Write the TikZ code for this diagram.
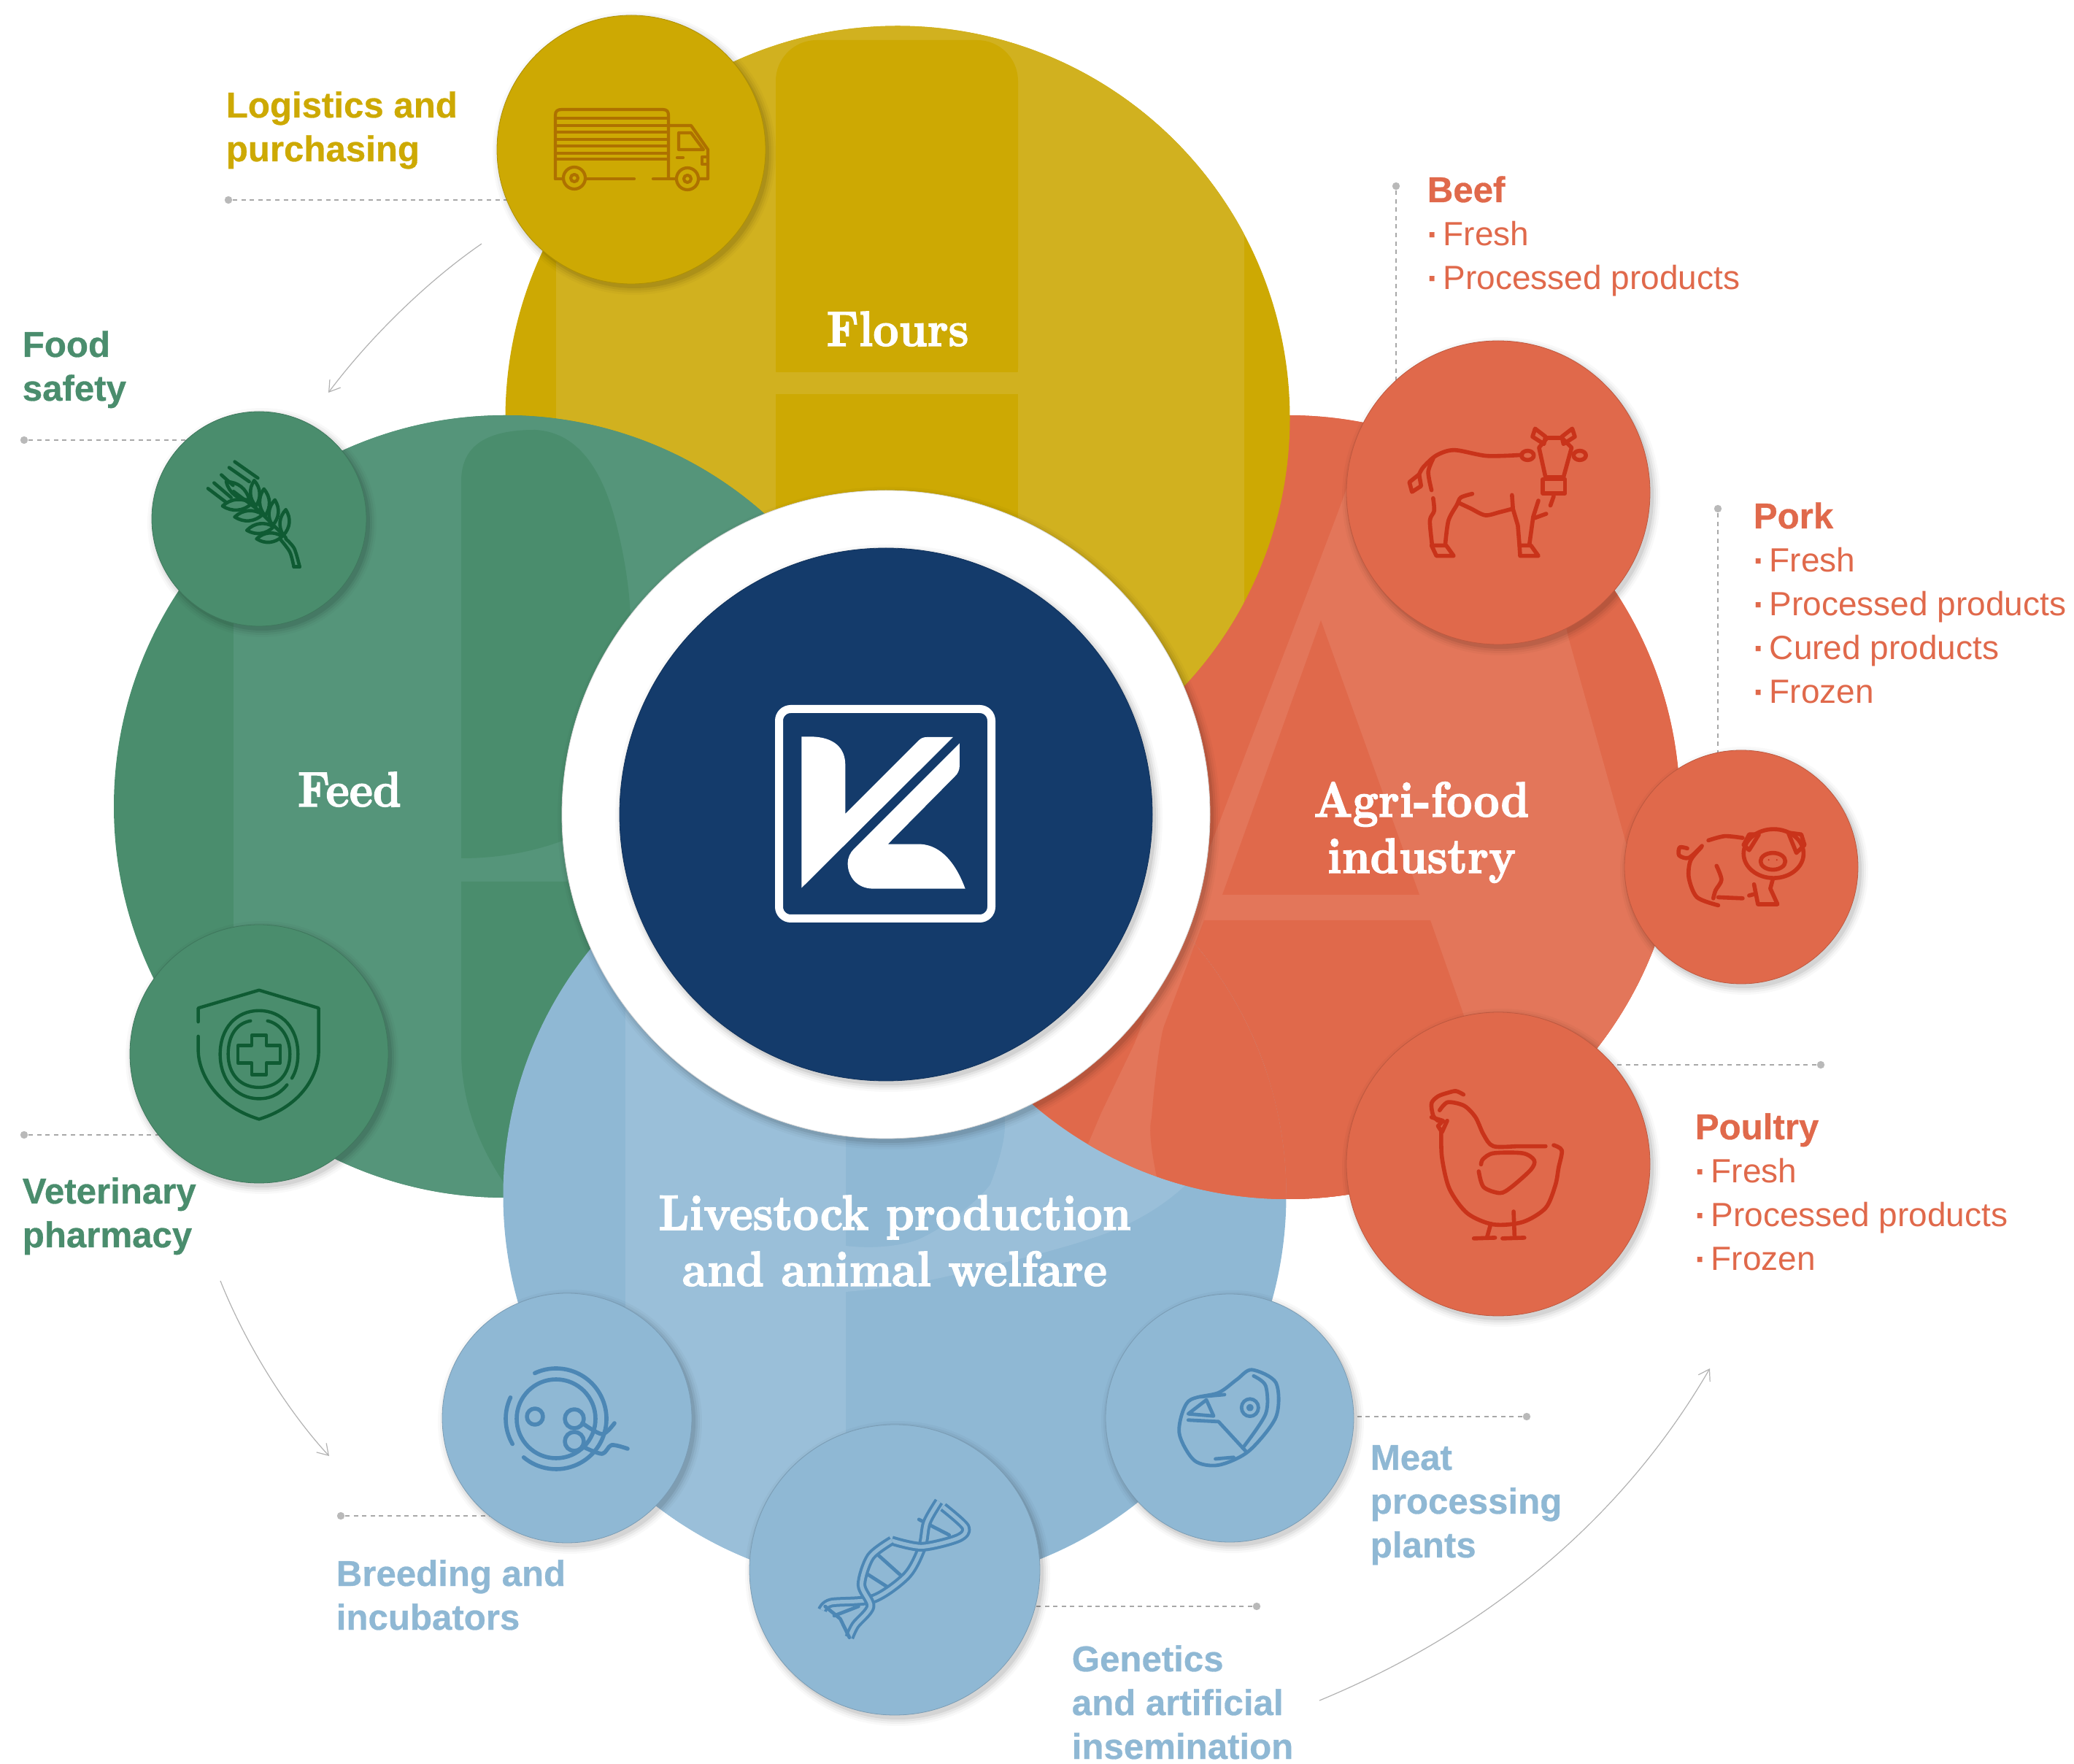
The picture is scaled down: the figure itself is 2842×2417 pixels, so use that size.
\documentclass[tikz,border=0pt]{standalone}
\usepackage{fontspec}
\setsansfont[BoldFeatures={FakeBold=0.6}]{Liberation Sans}
\newfontfamily\ttlf[FakeBold=2.2]{lmroman10-bold.otf}
\usetikzlibrary{arrows.meta}
\definecolor{yelD}{HTML}{CDA903}
\definecolor{yelL}{HTML}{D1B11F}
\definecolor{yelI}{HTML}{AE7100}
\definecolor{greD}{HTML}{4A8D6D}
\definecolor{greL}{HTML}{55957A}
\definecolor{greI}{HTML}{0F5B33}
\definecolor{redD}{HTML}{E0694B}
\definecolor{redL}{HTML}{E3765A}
\definecolor{redI}{HTML}{C9331A}
\definecolor{bluD}{HTML}{8FB8D4}
\definecolor{bluL}{HTML}{9ABFD9}
\definecolor{bluI}{HTML}{4C87B5}
\definecolor{navy}{HTML}{143B6B}
\definecolor{leadc}{HTML}{A8A8A8}
\pgfdeclarelayer{lead}
\pgfsetlayers{lead,main}
\tikzset{
  bigc/.style={circle,inner sep=0pt,minimum size={#1*0.5pt}},
  bub/.style={circle,inner sep=0pt},
  icon/.style={line width=1.4pt,line cap=round,line join=round},
  lab/.style={anchor=base west,inner sep=0pt,font=\fontsize{12.3}{15}\selectfont\sffamily\bfseries},
  lst/.style={anchor=base west,inner sep=0pt,font=\fontsize{11.5}{15}\selectfont\sffamily},
  ttl/.style={anchor=base,inner sep=0pt,text=white,font=\fontsize{17}{19.25}\selectfont\ttlf},
  dot/.style={circle,fill=leadc!80,inner sep=0pt,minimum size=2.6pt},
  leader/.style={leadc,line width=0.3pt,dash pattern=on 1.5pt off 1.4pt},
  flow/.style={black!30,line width=0.3pt,-{Straight Barb[length=3.6pt,width=4.6pt]}}
}
\newcommand\bubble[5]{%
  \foreach \k/\o in {10/.025,7/.035,4/.05,1/.07}{
    \fill[black,opacity=\o] (#2+4,#3+5) circle[radius=#4+\k];
  }
  \node[bub,fill=#5,draw=#5!85!black,line width=0.2pt,minimum size={#4*0.5pt}] (#1) at (#2,#3) {};
}
\newcommand\Ls[1]{\begin{tabular}[t]{@{}l@{}}#1\end{tabular}}
\newcommand\Bu{\makebox[5.5pt][l]{\textbf{·}}}
\newcommand\Hd[1]{{\fontsize{12.3}{15}\selectfont\bfseries #1}}
\newcommand\Tt[1]{\scalebox{.9}[1]{\begin{tabular}[t]{@{}c@{}}#1\end{tabular}}}
\newcommand\redwm{%
  \fill[redD] (1765,1106) circle[radius=537];
  \begin{scope}
    \clip (1765,1106) circle[radius=537];
    \fill[redL] (1900,520) -- (2070,520) -- (2149,873) -- (2267,1294) -- (2450,1900) -- (1350,1900)
      -- (1509,1525) -- (1555,1429) -- (1633,1226) -- (1727,980) -- (1800,790) -- (1833,703) -- cycle;
    \fill[redD] (1810,850) -- (1945,1226) -- (1675,1226) -- cycle;
    \fill[redD] (1650,1261) -- (1960,1261) -- (2003,1383) -- (2090,1640) -- (2090,1760) -- (1620,1760)
      .. controls (1590,1640) and (1570,1560) .. (1578,1532)
      .. controls (1582,1480) and (1590,1420) .. (1595,1406) -- cycle;
  \end{scope}
}
\begin{document}
\begin{tikzpicture}[x=0.25pt,y=-0.25pt]
\useasboundingbox (0,0) rectangle (2842,2417);

% --- large circles
\node[bigc=537,fill=redD] (redbig) at (1765,1106) {};
\redwm

\node[bigc=537.5,fill=yelD] (yelbig) at (1230,573) {};
\begin{scope}
  \clip (1230,573) circle[radius=537.5];
  \fill[yelL] (762,0) rectangle (1705,1200);
  \fill[yelD,rounded corners=14pt] (1063,55) rectangle (1395,560);
  \fill[yelL] (1040,510) rectangle (1420,540);
  \fill[yelD] (1063,540) rectangle (1395,1200);
\end{scope}

\node[bigc=536,fill=greD] (grebig) at (692,1105) {};
\begin{scope}
  \clip (692,1105) circle[radius=536];
  \fill[greL] (320,500) rectangle (1300,1700);
  \fill[greD] (632,1176) -- (632,660) .. controls (632,615) and (660,589) .. (733,589)
    .. controls (790,592) and (825,640) .. (845,720)
    .. controls (860,780) and (865,830) .. (865,880) -- (865,1100)
    .. controls (800,1150) and (720,1176) .. (632,1176) -- cycle;
  \fill[greD] (632,1208) -- (1000,1208) -- (1000,1620) -- (690,1620)
    .. controls (650,1560) and (632,1500) .. (632,1440) -- cycle;
\end{scope}

\node[bigc=536.5,fill=bluD] (blubig) at (1226,1638) {};
\begin{scope}
  \clip (1226,1638) circle[radius=536.5];
  \fill[bluL] (857,1000) rectangle (1159,2300);
  \fill[bluL] (1159,1707) .. controls (1200,1712) and (1240,1706) .. (1259,1698)
    .. controls (1300,1680) and (1345,1640) .. (1357,1623)
    .. controls (1370,1590) and (1377,1560) .. (1377,1543) -- (1380,1300) -- (1800,1300) -- (1700,1560)
    -- (1621,1627) .. controls (1590,1655) and (1560,1670) .. (1546,1677)
    .. controls (1500,1700) and (1400,1725) .. (1345,1737)
    .. controls (1280,1755) and (1220,1765) .. (1159,1770) -- cycle;
\end{scope}

% red lies over blue
\begin{scope}
  \clip (1226,1638) circle[radius=536.5];
  \redwm
\end{scope}

% --- centre
\bubble{ring}{1214}{1116}{444}{white}
\bubble{core}{1214}{1116}{365}{navy}
\draw[white,line width=2.75pt,rounded corners=4pt] (1067.5,971.5) rectangle (1358.5,1258.5);
\begin{scope}[shift={(1000,900)},x=0.0833333pt,y=-0.0833333pt]
  \fill[white] (295,328) -- (335,328) .. controls (430,330) and (475,375) .. (475,445) -- (475,645)
    -- (775,345) .. controls (785,335) and (795,330) .. (810,330) -- (918,330) -- (295,950) -- cycle;
  \fill[white] (945,355) -- (945,445) .. controls (945,465) and (938,480) .. (925,492)
    -- (650,770) -- (785,770) .. controls (870,775) and (930,850) .. (968,953)
    -- (590,953) .. controls (520,953) and (485,900) .. (485,850)
    .. controls (485,825) and (495,805) .. (510,790) -- cycle;
\end{scope}

% --- small circles
\bubble{truck}{865}{205}{184}{yelD}
\bubble{cow}{2053}{675}{208}{redD}
\bubble{pig}{2386}{1188}{160}{redD}
\bubble{hen}{2053}{1595}{208}{redD}
\bubble{wheat}{355}{711}{147}{greD}
\bubble{shield}{355}{1444}{177}{greD}
\bubble{dish}{777}{1943}{171}{bluD}
\bubble{dna}{1226}{2151}{199}{bluD}
\bubble{meat}{1685}{1943}{170}{bluD}

% --- truck
\begin{scope}[yelI,icon,line width=1.05pt]
  \draw (761,245) -- (761,158) .. controls (761,152) and (764,150) .. (770,150) -- (908,150)
    .. controls (914,150) and (916,153) .. (916,158) -- (916,245);
  \foreach \s in {162,172,181,191,200,210,218}{\draw (761,\s) -- (916,\s);}
  \draw (761,245) -- (772,245);
  \draw (803,245) -- (869,245);
  \draw (895,245) -- (926,245);
  \draw (787,244) circle[radius=15];
  \draw (787,244) circle[radius=5];
  \draw (942,245) circle[radius=15];
  \draw (942,245) circle[radius=5];
  \draw (958,245) -- (970,245) -- (970,205) -- (947,172) -- (916,172);
  \draw (964,205) -- (947,182) -- (930,182) -- (930,205) -- cycle;
  \draw (928,216) -- (936,216);
  \draw (970,215) -- (962,215) -- (962,225) -- (970,225);
\end{scope}

% --- cow
\begin{scope}[shift={(1850,500)},x=0.11161pt,y=-0.08333pt,redI,icon]
  \draw plot[smooth] coordinates {(528,370) (420,374) (320,350) (265,372) (225,420) (212,450)};
  \draw (212,450) -- (182,482) -- (190,522) -- (218,498) -- cycle;
  \draw plot[smooth] coordinates {(255,385) (240,440) (250,515)};
  \draw plot[smooth] coordinates {(255,548) (258,600) (245,640) (252,742)};
  \draw (250,742) -- (295,742) -- (318,785) -- (265,785) -- cycle;
  \draw plot[smooth] coordinates {(375,530) (340,545) (328,575) (302,640) (292,742)};
  \draw plot[smooth] coordinates {(335,568) (370,590) (415,618) (460,605) (497,592)};
  \draw (497,535) -- (500,592) -- (515,660) -- (520,742);
  \draw (578,558) -- (562,625) -- (550,742);
  \draw (602,612) -- (565,630);
  \draw (520,742) -- (555,742) -- (578,785) -- (522,785) -- cycle;
  \draw (545,372) circle[x radius=19,y radius=19];
  \draw (705,372) circle[x radius=19,y radius=19];
  \draw (580,340) -- (605,300) -- (650,300) -- (680,340) -- (655,462) -- (600,462) -- cycle;
  \draw (592,470) -- (660,470) -- (660,528) -- (592,528) -- cycle;
  \draw (568,262) -- (560,295) -- (595,325) -- (600,295) -- cycle;
  \draw (682,262) -- (690,295) -- (655,325) -- (650,295) -- cycle;
  \draw (625,540) -- (615,578);
\end{scope}

% --- pig
\begin{scope}[shift={(1850,1050)},x=0.11161pt,y=-0.11962pt,redI,icon]
  \draw (1300,250) circle[x radius=92,y radius=70];
  \draw (1208,225) -- (1225,195) -- (1255,195) -- (1225,240) -- cycle;
  \draw (1345,190) -- (1385,195) -- (1395,225) -- (1370,248) -- cycle;
  \draw (1298,272) circle[x radius=38,y radius=24];
  \fill (1285,268) circle[radius=2.5];
  \fill (1310,268) circle[radius=2.5];
  \draw plot[smooth] coordinates {(1100,212) (1150,200) (1205,205)};
  \draw plot[smooth] coordinates {(1078,232) (1045,270) (1040,320) (1065,375) (1130,398)};
  \draw (1130,375) -- (1205,378);
  \draw plot[smooth] coordinates {(1125,285) (1140,325) (1122,355) (1115,378)};
  \draw plot[smooth] coordinates {(1080,228) (1040,262) (1010,255) (1012,232) (1035,235)};
  \draw (1240,338) -- (1252,395) -- (1312,395) -- (1290,350) -- (1298,322);
  \draw (1225,370) -- (1245,365);
\end{scope}

% --- hen
\begin{scope}[shift={(1850,1050)},x=0.11161pt,y=-0.11962pt,redI,icon]
  \draw plot[smooth] coordinates {(625,1085) (650,1100) (640,1150) (630,1200) (600,1265) (530,1305) (440,1312) (360,1280) (305,1210) (282,1120) (280,1045)};
  \draw plot[smooth] coordinates {(600,1088) (520,1088) (440,1088) (410,1055) (385,1005) (350,972) (300,962) (275,985)};
  \draw plot[smooth] coordinates {(348,940) (325,930) (300,935) (270,945) (250,965) (255,1000) (270,1015)};
  \draw (250,1005) -- (285,1015) -- (270,1030) -- (282,1048) -- (298,1015);
  \draw plot[smooth] coordinates {(395,1160) (410,1205) (460,1222) (495,1205) (555,1155) (565,1128) (530,1108) (440,1108) (408,1125) (402,1140)};
  \draw (432,1310) -- (420,1350);
  \draw (380,1352) -- (445,1350);
  \draw (502,1275) -- (505,1350);
  \draw (468,1352) -- (535,1350);
\end{scope}

% --- wheat
\begin{scope}[shift={(260,610)},x=0.08333pt,y=-0.08333pt,greI,icon,line width=1.15pt]
  \draw (185,68) -- (280,135);
  \draw (162,92) -- (245,150);
  \draw (130,122) -- (178,165);
  \draw (100,155) -- (170,215);
  \draw (75,178) -- (150,235);
  \draw (180,190) -- (280,265) -- (395,380);
  \draw plot[smooth] coordinates {(395,385) (430,425) (452,500)};
  \draw plot[smooth] coordinates {(375,390) (412,440) (428,500)};
  \draw (428,500) -- (452,500);
  \foreach \ax/\ay/\bx/\by in {150/150/245/225,265/145/272/250,305/180/310/290,350/225/340/330,395/265/385/370,135/250/255/240,185/295/300/285,235/350/345/335,275/385/380/375}{
    \draw (\ax,\ay) to[bend left=38] (\bx,\by) to[bend left=38] (\ax,\ay);
  }
\end{scope}

% --- shield
\begin{scope}[shift={(150,550)},x=0.08333pt,y=-0.17537pt,greI,icon,line width=1.1pt]
  \draw (365,1212) -- (365,1185) -- (615,1150) -- (860,1185) -- (860,1270)
    .. controls (860,1310) and (800,1375) .. (615,1402)
    .. controls (430,1375) and (368,1310) .. (365,1270) -- (365,1240);
  \draw (730,1335) .. controls (690,1358) and (650,1362) .. (615,1362)
    .. controls (520,1362) and (455,1325) .. (455,1275)
    .. controls (455,1225) and (520,1190) .. (615,1190)
    .. controls (710,1190) and (775,1225) .. (775,1275)
    .. controls (775,1295) and (765,1310) .. (750,1322);
  \draw (580,1210) .. controls (520,1215) and (488,1240) .. (488,1275)
    .. controls (488,1315) and (540,1340) .. (615,1340)
    .. controls (690,1340) and (742,1315) .. (742,1275)
    .. controls (742,1240) and (700,1215) .. (650,1210);
  \draw (585,1238) -- (645,1238) -- (645,1258) -- (702,1258) -- (702,1292) -- (645,1292) -- (645,1315)
    -- (585,1315) -- (585,1292) -- (528,1292) -- (528,1258) -- (585,1258) -- cycle;
\end{scope}

% --- dish
\begin{scope}[bluI,icon]
  \draw (762,1944) circle[radius=54];
  \draw (762,1944) ++(-115:69) arc[start angle=-115,end angle=130,radius=69];
  \draw (762,1944) ++(150:69) arc[start angle=150,end angle=205,radius=69];
  \draw (733,1941) circle[radius=11];
  \draw (787,1944) circle[radius=13];
  \draw (787,1975) circle[radius=13];
  \draw plot[smooth] coordinates {(798,1950) (825,1965) (842,1950)};
  \draw plot[smooth] coordinates {(798,1982) (825,1992) (838,1980) (860,1985)};
\end{scope}

% --- meat
\begin{scope}[shift={(600,1750)},x=0.2073pt,y=-0.10638pt,bluI,icon,line width=1.2pt]
  \draw plot[smooth cycle] coordinates {(1345,298) (1385,340) (1385,450) (1340,560) (1290,605) (1250,590) (1225,500) (1240,400) (1290,372) (1320,330)};
  \draw plot[smooth] coordinates {(1348,318) (1368,350) (1368,440) (1330,550)};
  \draw (1342,420) circle[x radius=14,y radius=28];
  \draw (1342,420) circle[x radius=3,y radius=6];
  \draw (1240,460) -- (1290,465) -- (1335,560);
  \draw (1240,440) -- (1270,395) -- (1282,447) -- cycle;
  \draw (1260,385) -- (1300,378);
  \draw (1285,585) -- (1315,580);
\end{scope}

% --- dna
\begin{scope}[shift={(600,1750)},x=0.2073pt,y=-0.10638pt,bluI,icon,line width=1.2pt]
  \draw (725,890) -- (765,960);
  \draw (705,950) -- (745,1000);
  \draw (795,780) -- (845,830);
  \draw (655,1090) -- (695,1060);
  \draw[line width=1pt,double=bluD,double distance=1.3pt,line cap=butt]
    plot[smooth] coordinates {(828,722) (808,790) (800,870) (775,960) (720,1035) (650,1048) (635,1072)};
  \draw[line width=1pt,double=bluD,double distance=1.3pt,line cap=butt]
    plot[smooth] coordinates {(835,740) (872,805) (860,840) (800,868) (750,848)};
  \draw[line width=1pt,double=bluD,double distance=1.3pt,line cap=butt]
    plot[smooth] coordinates {(750,848) (715,900) (700,990) (715,1060) (690,1120) (680,1160)};
  \draw (640,1060) -- (665,1100) -- (680,1160);
\end{scope}

% --- leaders and flow arrows
\node[dot] (dlog) at (313,274) {};
\node[dot] (dfood) at (33,603) {};
\node[dot] (dvet) at (33,1555) {};
\node[dot] (dbreed) at (467,2077) {};
\node[dot] (dgen) at (1722,2201) {};
\node[dot] (dmeat) at (2092,1941) {};
\node[dot] (dpoul) at (2495,1459) {};
\node[dot] (dpork) at (2354,697) {};
\node[dot] (dbeef) at (1913,255) {};
\coordinate (a1s) at (660,334);
\coordinate (a1e) at (450,538);
\coordinate (a2s) at (302,1755);
\coordinate (a2e) at (451,1995);
\coordinate (a3s) at (1808,2330);
\coordinate (a3e) at (2343,1875);
\begin{pgfonlayer}{lead}
  \draw[leader] (dlog) -- (dlog -| truck);
  \draw[leader] (dfood) -- (dfood -| wheat);
  \draw[leader] (dvet) -- (dvet -| shield);
  \draw[leader] (dbreed) -- (dbreed -| dish);
  \draw[leader] (dgen) -- (dgen -| dna);
  \draw[leader] (dmeat) -- (dmeat -| meat);
  \draw[leader] (dpoul) -- (dpoul -| hen);
  \draw[leader] (dpork) -- (dpork |- pig);
  \draw[leader] (dbeef) -- (dbeef |- cow);
\end{pgfonlayer}
\draw[flow] (a1s) .. controls (590,382) and (510,458) .. (a1e);
\draw[flow] (a2s) .. controls (340,1850) and (400,1940) .. (a2e);
\draw[flow] (a3s) .. controls (2050,2230) and (2230,2070) .. (a3e);

% --- section titles
\node[ttl] (tflour) at (1230,474) {\Tt{Flours}};
\node[ttl] (tfeed) at (479,1105) {\Tt{Feed}};
\node[ttl] (tagri) at (1948,1119) {\Tt{Agri-food\\industry}};
\node[ttl] (tlive) at (1226,1685) {\Tt{Livestock production\\and animal welfare}};

% --- labels
\node[lab,text=yelD] (llog) at (309,161) {\Ls{Logistics and\\purchasing}};
\node[lab,text=greD] (lfood) at (30,489) {\Ls{Food\\safety}};
\node[lab,text=greD] (lvet) at (30,1649) {\Ls{Veterinary\\pharmacy}};
\node[lab,text=bluD] (lbreed) at (460,2173) {\Ls{Breeding and\\incubators}};
\node[lab,text=bluD] (lgen) at (1468,2290) {\Ls{Genetics\\and artificial\\insemination}};
\node[lab,text=bluD] (lmeat) at (1877,2014) {\Ls{Meat\\processing\\plants}};
\node[lst,text=redD] (lbeef) at (1955,277) {\Ls{\Hd{Beef}\\\Bu Fresh\\\Bu Processed products}};
\node[lst,text=redD] (lpork) at (2402,724) {\Ls{\Hd{Pork}\\\Bu Fresh\\\Bu Processed products\\\Bu Cured products\\\Bu Frozen}};
\node[lst,text=redD] (lpoul) at (2322,1561) {\Ls{\Hd{Poultry}\\\Bu Fresh\\\Bu Processed products\\\Bu Frozen}};
\end{tikzpicture}
\end{document}
